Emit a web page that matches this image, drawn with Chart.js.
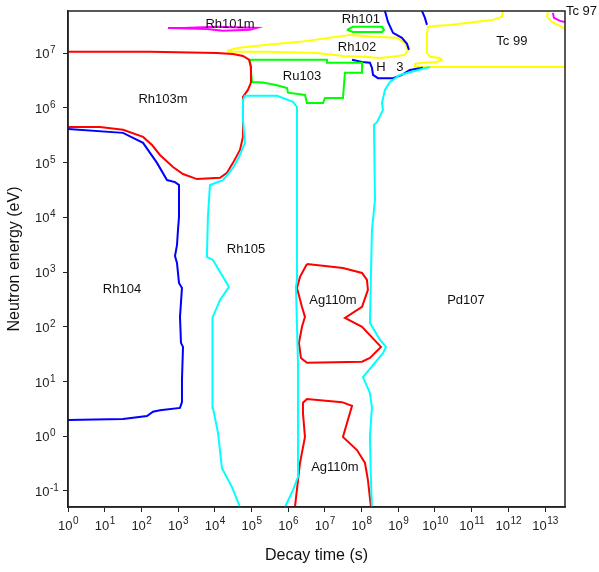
<!DOCTYPE html>
<html>
<head>
<meta charset="utf-8">
<script src="https://cdn.jsdelivr.net/npm/chart.js@4"></script>
<style>
html,body{margin:0;padding:0;background:#fff;}
#wrap{width:599px;height:572px;}
</style>
</head>
<body>
<div id="wrap"><canvas id="c" width="599" height="572"></canvas></div>
<script>
// ---- axis ticks (labels are 10 raised to the exponent) ----
const xTickValues = [1,1e1,1e2,1e3,1e4,1e5,1e6,1e7,1e8,1e9,1e10,1e11,1e12,1e13];
const xTickExponents = ['0','1','2','3','4','5','6','7','8','9','10','11','12','13'];
const yTickValues = [0.1,1,1e1,1e2,1e3,1e4,1e5,1e6,1e7];
const yTickExponents = ['-1','0','1','2','3','4','5','6','7'];
const tickBase = '10';

// ---- curves: decay time (s) and neutron energy (eV) ----
const rh101mTime   = [530,1360,1.15e4,1.41e5,9.1e4,1.67e4,6.1e3,530];
const rh101mEnergy = [2.9e7,2.9e7,3.03e7,2.9e7,2.67e7,2.56e7,2.78e7,2.9e7];

const tc97Time   = [1.64e13,1.75e13,2.55e13,3.48e13];
const tc97Energy = [5.46e7,4.42e7,3.89e7,3.73e7];

const tc97yTime   = [1.2e13,1.13e13,1.54e13,2.55e13,3.48e13];
const tc97yEnergy = [5.69e7,4.61e7,3.73e7,3.16e7,2.78e7];

const rh103mTime   = [1,172,1.15e4,3.13e4,5.86e4,8.55e4,9.7e4,9.7e4,8.0e4,5.86e4,5.86e4,4.86e4,3.13e4,2.15e4,1.39e4,3.27e3,1.36e3,726,321,195,111,31.6,7.45,1];
const rh103mEnergy = [1.06e7,1.06e7,1.01e7,9.7e6,8.9e6,7.6e6,5.6e6,2.9e6,2.13e6,1.59e6,2.95e5,1.71e5,9.9e4,6.5e4,5.3e4,5.0e4,6.2e4,8.3e4,1.38e5,2.1e5,2.95e5,4.0e5,4.5e5,4.5e5];

const rh104Time   = [1,31.6,111,266,499,824,1059,1059,994,933,824,933,1059,1276,1127,1199,1361,1276,1276,1127,321,207,142,31.6,1];
const rh104Energy = [4.13e5,3.5e5,2.3e5,9.9e4,4.8e4,4.4e4,3.9e4,1.02e4,5.9e3,3.1e3,1.97e3,1.47e3,634,514,152,51,43,10.7,4.2,3.3,3.0,2.8,2.35,2.07,1.99];

const rh105Time   = [4.86e4,2.94e4,1.57e4,1.22e4,8.9e3,8.9e3,8.4e3,1.39e4,2.44e4,8.9e3,6.1e3,6.5e3,7.4e3,1.67e4,3.13e4,4.56e4,6.65e4,5.86e4,5.86e4,6.65e4,4.95e5,1.35e6,1.74e6,1.74e6,1.74e6,1.63e6,1.85e6,1.85e6,1.35e6,8.2e5];
const rh105Energy = [0.051,0.118,0.26,1.17,3.3,9.4,145,310,536,1.67e3,1.9e3,1.02e4,3.9e4,4.8e4,8.0e4,1.27e5,2.3e5,6.0e5,1.4e6,1.66e6,1.66e6,1.29e6,1.04e6,1.71e5,719,536,22,0.18,0.104,0.051];

const pd107Time   = [7.31e9,4.71e9,2.08e9,1.11e9,5.94e8,4.34e8,3.6e8,3.83e8,2.63e8,2.18e8,2.32e8,1.92e8,1.69e8,3.17e8,4.62e8,3.83e8,1.09e8,1.69e8,1.92e8,1.69e8,1.8e8,1.92e8];
const pd107Energy = [5.6e6,5.2e6,4.5e6,4.0e6,2.98e6,2.13e6,1.23e6,9.2e5,5.5e5,4.9e5,2.1e4,5.9e3,118,58,43,33,12,6.2,3.4,0.97,0.16,0.051];

const ag110mATime   = [3.25e6,3.11e7,1.03e8,1.4e8,1.49e8,1.03e8,3.53e7,1.03e8,3.38e8,1.69e8,1.03e8,3.25e6,2.23e6,1.97e6,2.38e6,2.87e6,2.38e6,1.74e6,2.1e6,3.25e6];
const ag110mAEnergy = [1.41e3,1.19e3,966,719,472,231,145,100,43,27,23,22,27,51,100,152,231,514,817,1.41e3];

const ag110mBTime   = [1.53e6,2.1e6,2.87e6,2.53e6,2.53e6,3.25e6,2.92e7,5.5e7,3.11e7,7.5e7,1.24e8,1.49e8,1.8e8];
const ag110mBEnergy = [0.051,0.325,0.97,2.65,4.1,4.8,4.2,3.6,0.97,0.56,0.325,0.16,0.051];

const ru103Time   = [9.1e4,1.14e7,1.14e7,1.03e8,1.03e8,3.53e7,3.11e7,1.01e7,8.9e6,3.25e6,2.87e6,9.9e5,9.3e5,4.95e5,2.06e5,1.03e5,9.1e4];
const ru103Energy = [7.6e6,7.6e6,6.7e6,6.7e6,4.4e6,4.4e6,1.52e6,1.52e6,1.23e6,1.23e6,1.73e6,1.9e6,2.3e6,2.6e6,2.9e6,2.98e6,7.6e6];

const rh101Time   = [4.0e7,5.8e7,3.6e8,4.08e8,3.6e8,5.8e7,4.0e7];
const rh101Energy = [2.67e7,3.03e7,3.03e7,2.67e7,2.45e7,2.45e7,2.67e7];

const rh102Time   = [2.15e4,4.03e4,2.64e5,2.1e6,1.38e7,4.8e7,2.05e8,9.2e8,1.52e9,1.84e9,1.52e9,6.7e8,3.17e8,1.09e8,3.11e7,6.1e6,2.64e5,2.6e4,2.15e4];
const rh102Energy = [1.1e7,1.25e7,1.42e7,1.61e7,1.91e7,2.16e7,1.99e7,1.91e7,1.54e7,1.15e7,9.3e6,8.6e6,8.2e6,8.6e6,8.9e6,1.01e7,1.06e7,1.06e7,1.1e7];

const blueATime   = [4.34e8,5.24e8,7.2e8,1.26e9,1.73e9,1.96e9];
const blueAEnergy = [5.93e7,3.73e7,2.35e7,1.91e7,1.48e7,1.15e7];

const blueBTime   = [4.42e9,5.34e9,6.05e9];
const blueBEnergy = [5.93e7,4.42e7,3.29e7];

const tc99Time   = [7.1e11,6.7e11,3.8e11,2.03e11,2.56e10,1.13e10,6.44e9,6.05e9,6.05e9,7.31e9,1.37e10,1.55e10,1.13e10,4.71e9,2.85e9,2.85e9,6.05e9,3.48e13];
const tc99Energy = [5.93e7,4.61e7,4.06e7,3.89e7,3.29e7,3.16e7,3.03e7,2.16e7,1.01e7,8.6e6,8.2e6,7.6e6,6.9e6,6.7e6,6.4e6,5.6e6,5.6e6,5.6e6];

const h3Time   = [5.5e7,1.03e8,1.69e8,1.92e8,2.05e8,2.8e8,7.2e8,1.26e9,2.08e9,4.71e9];
const h3Energy = [7.6e6,6.9e6,6.7e6,5.4e6,4.0e6,3.5e6,3.5e6,4.0e6,4.95e6,5.4e6];

// ---- region labels ----
const labelTexts  = ['Rh101m','Rh101','Rh102','Tc 99','Rh103m','Ru103','H','3','Rh105','Rh104','Ag110m','Pd107','Ag110m','Tc 97'];
const labelTime   = [2.6e4,9.6e7,7.5e7,1.25e12,388,2.38e6,3.38e8,1.11e9,7.1e4,29.6,1.66e7,7.0e10,1.88e7,3.7e13];
const labelEnergy = [3.29e7,4.06e7,1.25e7,1.61e7,1.4e6,3.7e6,5.6e6,5.6e6,2.65e3,492,310,310,0.27,5.7e7];

function pts(t, e){ return t.map((v,i)=>({x:v,y:e[i]})); }
function ds(t, e, color){
  return {data: pts(t,e), borderColor: color, backgroundColor: color, borderWidth: 2,
          showLine: true, pointRadius: 0, tension: 0, fill: false};
}

const RED='#ff0000', BLUE='#0000ff', CYAN='#00ffff', GREEN='#00ff00', YEL='#ffff00', MAG='#ff00ff';

const datasets = [
  ds(rh105Time, rh105Energy, CYAN),
  ds(pd107Time, pd107Energy, CYAN),
  ds(rh104Time, rh104Energy, BLUE),
  ds(rh103mTime, rh103mEnergy, RED),
  ds(ag110mATime, ag110mAEnergy, RED),
  ds(ag110mBTime, ag110mBEnergy, RED),
  ds(ru103Time, ru103Energy, GREEN),
  ds(rh101Time, rh101Energy, GREEN),
  ds(blueATime, blueAEnergy, BLUE),
  ds(blueBTime, blueBEnergy, BLUE),
  ds(h3Time, h3Energy, BLUE),
  ds(rh102Time, rh102Energy, YEL),
  ds(tc99Time, tc99Energy, YEL),
  ds(tc97yTime, tc97yEnergy, YEL),
  ds(rh101mTime, rh101mEnergy, MAG),
  ds(tc97Time, tc97Energy, MAG)
];

const FONT = '"Liberation Sans", Arial, sans-serif';

const framePlugin = {
  id: 'frame',
  afterDatasetsDraw(chart){
    const {ctx, chartArea:a} = chart;
    ctx.save();
    ctx.strokeStyle = '#222';
    ctx.lineWidth = 1.5;
    ctx.strokeRect(a.left, a.top, a.right - a.left, a.bottom - a.top);
    ctx.restore();
  }
};

// tick labels drawn as "10" with a raised exponent
const tickLabelPlugin = {
  id: 'tickLabels',
  afterDraw(chart){
    const {ctx, chartArea:a} = chart;
    const xs = chart.scales.x, ys = chart.scales.y;
    const baseFont = '13px ' + FONT, expFont = '10px ' + FONT;
    ctx.save();
    ctx.fillStyle = '#222';
    ctx.textBaseline = 'alphabetic';
    ctx.textAlign = 'left';
    ctx.font = baseFont;
    const bw = ctx.measureText(tickBase).width;
    xTickValues.forEach((v,i)=>{
      const px = xs.getPixelForValue(v);
      ctx.font = expFont;
      const ew = ctx.measureText(xTickExponents[i]).width;
      const x0 = px - (bw + ew) / 2;
      ctx.font = baseFont;
      ctx.fillText(tickBase, x0, a.bottom + 23);
      ctx.font = expFont;
      ctx.fillText(xTickExponents[i], x0 + bw + 0.5, a.bottom + 17);
    });
    yTickValues.forEach((v,i)=>{
      const py = ys.getPixelForValue(v);
      const x0 = a.left - 33;
      ctx.font = baseFont;
      ctx.fillText(tickBase, x0, py + 5);
      ctx.font = expFont;
      ctx.fillText(yTickExponents[i], x0 + bw + 0.5, py);
    });
    ctx.restore();
  }
};

const labelPlugin = {
  id: 'regionLabels',
  afterDraw(chart){
    const {ctx} = chart;
    const xs = chart.scales.x, ys = chart.scales.y;
    ctx.save();
    ctx.fillStyle = '#111';
    ctx.font = '13px ' + FONT;
    ctx.textBaseline = 'middle';
    labelTexts.forEach((t,i)=>{
      const px = xs.getPixelForValue(labelTime[i]);
      const py = ys.getPixelForValue(labelEnergy[i]);
      ctx.textAlign = (t === 'Tc 97') ? 'left' : 'center';
      ctx.fillText(t, t === 'Tc 97' ? xs.right + 1 : px, py);
    });
    ctx.restore();
  }
};

new Chart(document.getElementById('c'), {
  type: 'scatter',
  data: { datasets },
  options: {
    responsive: false,
    animation: false,
    layout: { padding: { left: 0, right: 34, top: 11, bottom: 0 } },
    plugins: { legend: { display: false }, tooltip: { enabled: false } },
    scales: {
      x: {
        type: 'logarithmic', min: 1, max: 3.5e13, position: 'bottom',
        afterBuildTicks: (axis) => { axis.ticks = xTickValues.map(v => ({value: v})); },
        afterFit: (s) => { s.height = 65; },
        ticks: { display: false, autoSkip: false, maxRotation: 0 },
        grid: { drawOnChartArea: false, drawTicks: true, tickLength: 5, color: '#222', lineWidth: 1 },
        border: { display: true, color: '#222', width: 1.5 },
        title: { display: true, text: 'Decay time (s)', color: '#111',
                 font: { family: FONT, size: 16 },
                 padding: { top: 0, bottom: 7 } }
      },
      y: {
        type: 'logarithmic', min: 0.051, max: 5.9e7, position: 'left',
        afterBuildTicks: (axis) => { axis.ticks = yTickValues.map(v => ({value: v})); },
        afterFit: (s) => { s.width = 68; },
        ticks: { display: false, autoSkip: false },
        grid: { drawOnChartArea: false, drawTicks: true, tickLength: 5, color: '#222', lineWidth: 1 },
        border: { display: true, color: '#222', width: 1.5 },
        title: { display: true, text: 'Neutron energy (eV)', color: '#111',
                 font: { family: FONT, size: 16 },
                 padding: { top: 5, bottom: 0 } }
      }
    }
  },
  plugins: [framePlugin, tickLabelPlugin, labelPlugin]
});
</script>
</body>
</html>
